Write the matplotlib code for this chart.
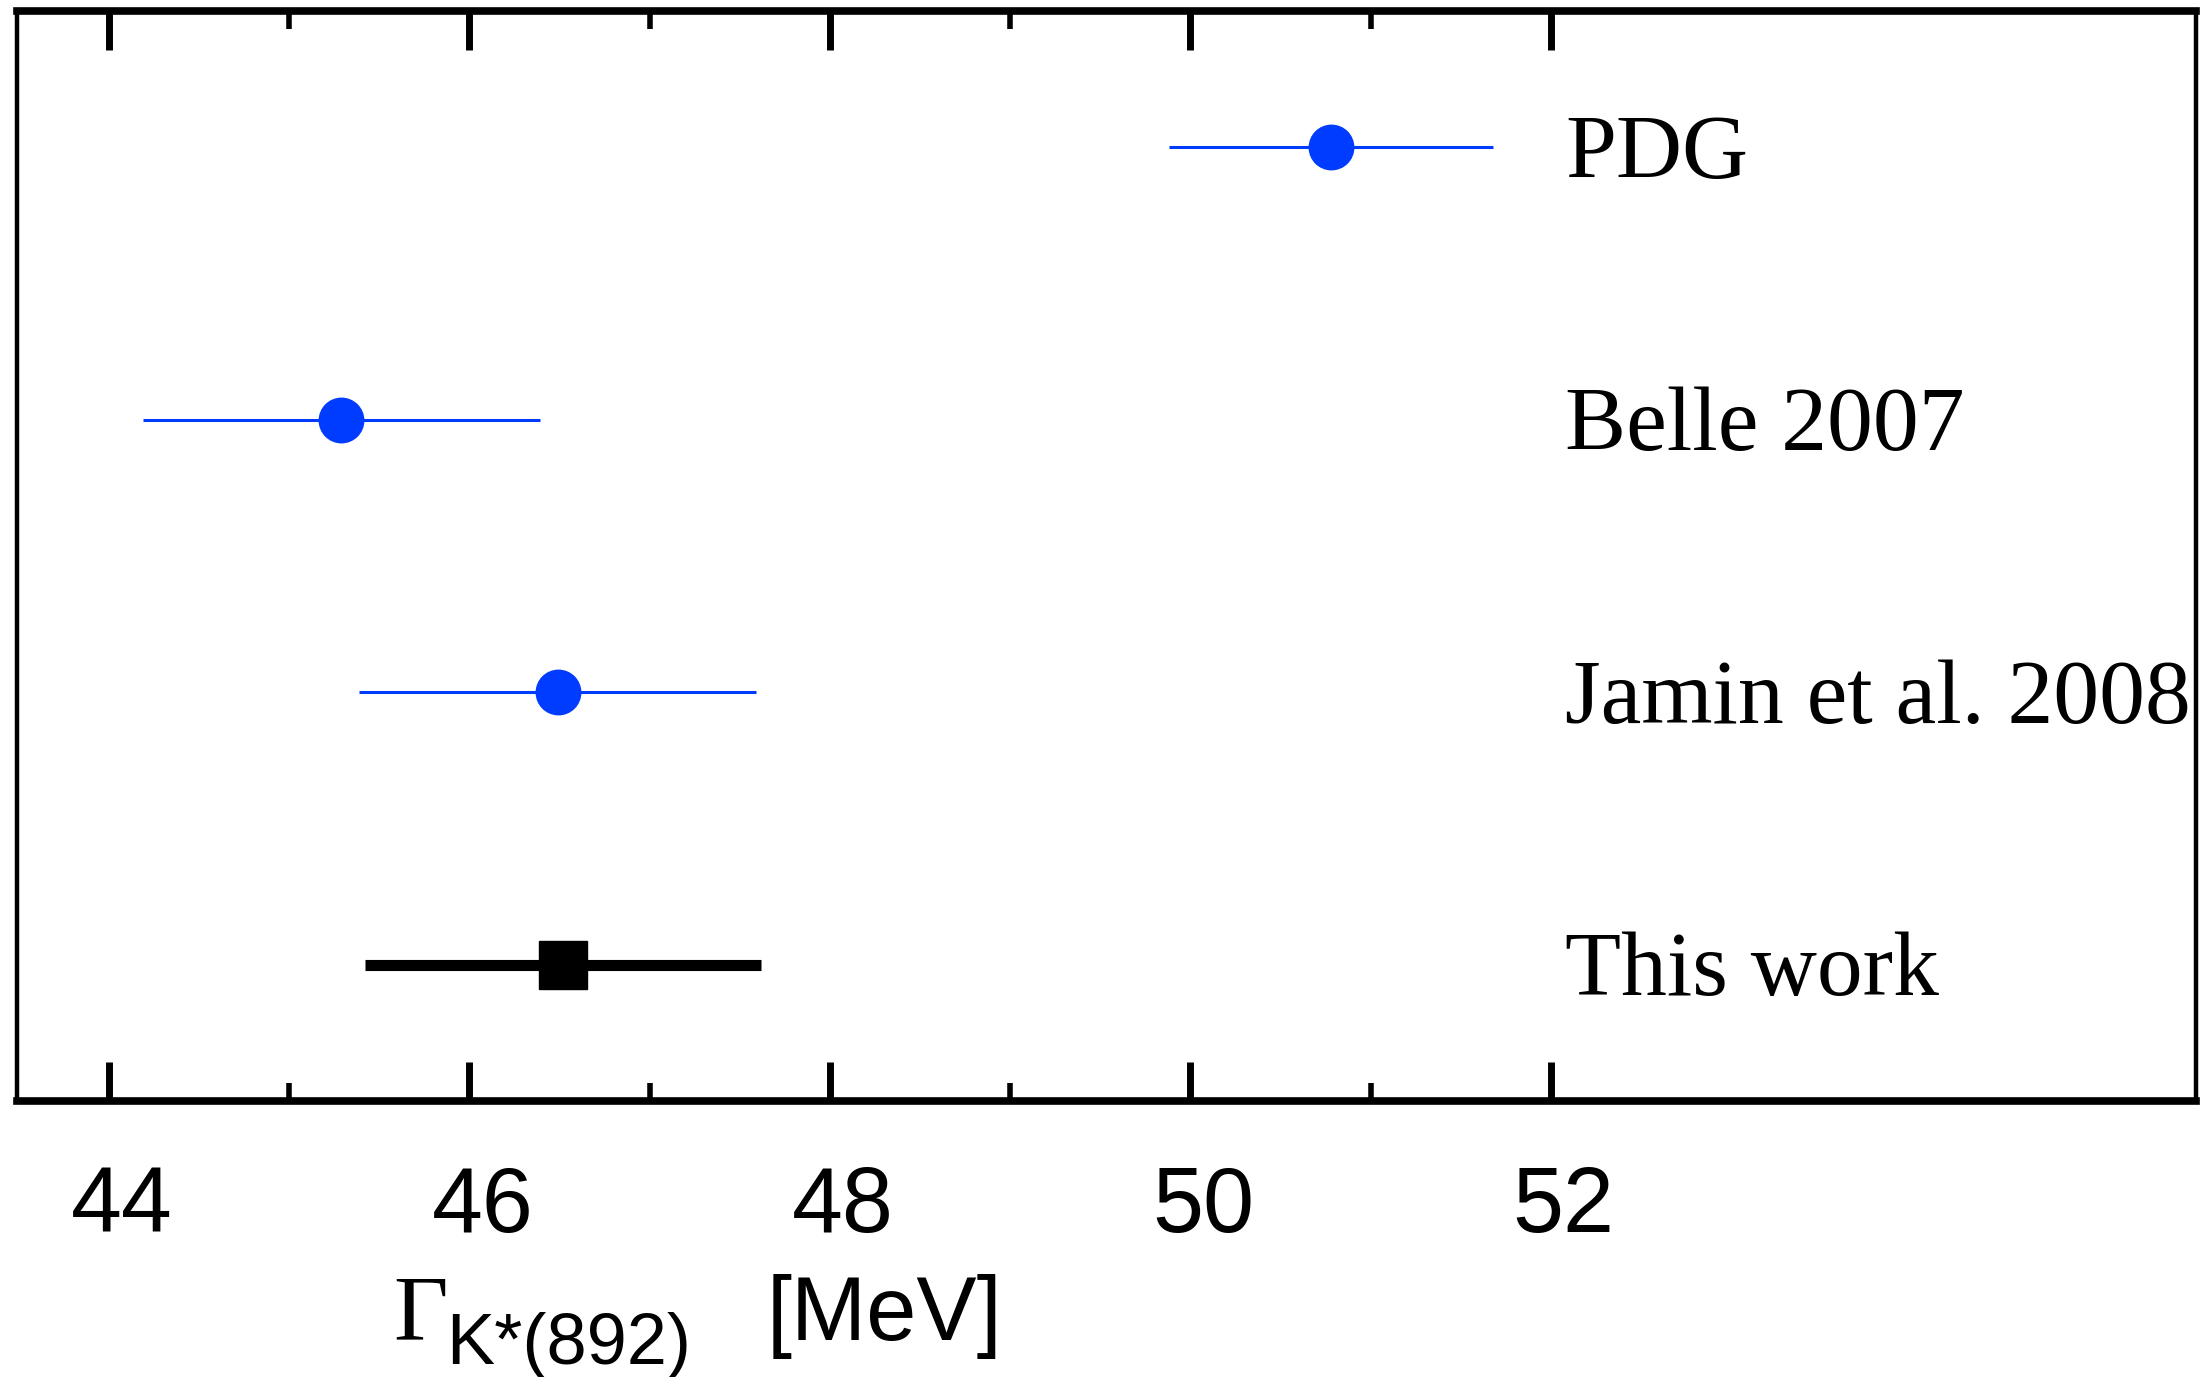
import matplotlib
matplotlib.use('Agg')
import matplotlib.pyplot as plt
from matplotlib.transforms import ScaledTranslation

# widths of K*(892), MeV
labels = ['PDG', 'Belle 2007', 'Jamin et al. 2008', 'This work']
centers = [50.78, 45.29, 46.49, 46.52]
errors = [0.90, 1.10, 1.10, 1.10]
rows = [4, 3, 2, 1]

major = [44, 46, 48, 50, 52]
minor = [45, 47, 49, 51]

blue = '#003cff'

fig = plt.figure(figsize=(22, 13.77), dpi=100)
ax = fig.add_axes([0.0077, 0.2004, 0.9905, 0.7916])

# literature values: blue circles
ax.errorbar(centers[:3], rows[:3], xerr=errors[:3], fmt='o', color=blue,
            ms=32, elinewidth=2.2, capsize=0, zorder=3)
# our result: black square, thick bar
ax.errorbar(centers[3:], rows[3:], xerr=errors[3:], fmt='s', color='black',
            ms=34, elinewidth=8, capsize=0, zorder=3)

for lab, r in zip(labels, rows):
    ax.annotate(lab, xy=(52.08, r), xytext=(0, -22), textcoords='offset points',
                ha='left', va='baseline', fontsize=66, family='Liberation Serif')

ax.set_xlim(43.49, 55.58)
ax.set_ylim(0.5, 4.5)

ax.set_xticks(major)
ax.set_xticks(minor, minor=True)
ax.set_yticks([])
ax.set_xticklabels([str(v) for v in major], fontsize=66, family='Liberation Sans')
ax.tick_params(axis='x', which='major', direction='in', top=True, bottom=True,
               length=28, width=5, pad=46)
ax.tick_params(axis='x', which='minor', direction='in', top=True, bottom=True,
               length=13, width=4)

ax.spines['top'].set_linewidth(5.5)
ax.spines['bottom'].set_linewidth(5.5)
ax.spines['left'].set_linewidth(3.2)
ax.spines['right'].set_linewidth(3.2)

# tick numbers sit a little right of their ticks in the original
for t in ax.get_xticklabels():
    t.set_transform(t.get_transform() + ScaledTranslation(0.13, 0, fig.dpi_scale_trans))

# axis title, placed left of centre
ax.text(0.1726, -0.219, '\u0393', transform=ax.transAxes, ha='left', va='baseline',
        fontsize=68, family='Liberation Serif')
ax.text(0.197, -0.241, 'K*(892)', transform=ax.transAxes, ha='left', va='baseline',
        fontsize=52, family='Liberation Sans')
ax.text(0.344, -0.219, '[MeV]', transform=ax.transAxes, ha='left', va='baseline',
        fontsize=65, family='Liberation Sans')

fig.savefig('out.png', dpi=100)
